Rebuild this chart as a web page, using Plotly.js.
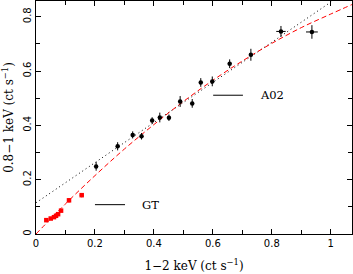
<!DOCTYPE html>
<html><head><meta charset="utf-8">
<script src="https://cdn.plot.ly/plotly-3.0.1.min.js"></script>
<style>html,body{margin:0;padding:0;background:#fff}#c{width:353px;height:274px}</style>
</head><body><div id="c"></div>
<script>
// A02 data (black)
var a02X   = [0.204, 0.277, 0.328, 0.358, 0.394, 0.420, 0.451, 0.489, 0.530, 0.559, 0.598, 0.657, 0.729, 0.831, 0.936];
var a02Y   = [0.249, 0.323, 0.365, 0.360, 0.418, 0.429, 0.428, 0.488, 0.481, 0.558, 0.562, 0.627, 0.660, 0.746, 0.744];
var a02Ex  = [0.005, 0.005, 0.005, 0.005, 0.004, 0.005, 0.005, 0.006, 0.005, 0.005, 0.006, 0.006, 0.006, 0.016, 0.020];
var a02Ey  = [0.016, 0.015, 0.013, 0.012, 0.012, 0.018, 0.012, 0.020, 0.016, 0.016, 0.018, 0.016, 0.022, 0.020, 0.025];
// GT data (red)
var gtX  = [0.035, 0.050, 0.061, 0.068, 0.075, 0.085, 0.112, 0.155];
var gtY  = [0.051, 0.057, 0.062, 0.067, 0.073, 0.086, 0.124, 0.143];
var gtEx = [0.003, 0.003, 0.003, 0.003, 0.003, 0.004, 0.004, 0.007];
var gtEy = [0.004, 0.004, 0.004, 0.004, 0.004, 0.005, 0.008, 0.008];
// dotted linear fit (black)
var linX = [0.0, 1.072];
var linY = [0.115, 0.907];
// dashed curve (red)
var curX = [0, 0.1, 0.2, 0.3, 0.4, 0.5, 0.6, 0.7, 0.8, 0.9, 1.0, 1.072];
var curY = [0, 0.111, 0.215, 0.313, 0.403, 0.488, 0.566, 0.637, 0.702, 0.760, 0.810, 0.845];
// tick labels
var xTicks = [0, 0.2, 0.4, 0.6, 0.8, 1];
var xTickText = ['0', '0.2', '0.4', '0.6', '0.8', '1'];
var yTicks = [0, 0.2, 0.4, 0.6, 0.8];
var yTickText = ['0', '0.2', '0.4', '0.6', '0.8'];

var serif = 'DejaVu Serif, Liberation Serif, serif';

var traces = [
  {x: linX, y: linY, mode: 'lines', line: {color: '#000', width: 1, dash: '1px,3px'}, hoverinfo: 'skip'},
  {x: curX, y: curY, mode: 'lines', line: {color: '#ff0000', width: 1, dash: '5px,3px', shape: 'spline'}, hoverinfo: 'skip'},
  {x: a02X, y: a02Y, mode: 'markers', marker: {color: '#000', size: 4.5},
   error_x: {type: 'data', array: a02Ex, color: '#000', thickness: 1, width: 0},
   error_y: {type: 'data', array: a02Ey, color: '#000', thickness: 1, width: 0}},
  {x: gtX, y: gtY, mode: 'markers', marker: {color: '#ff0000', size: 4.5, symbol: 'square'},
   error_x: {type: 'data', array: gtEx, color: '#ff0000', thickness: 1, width: 0},
   error_y: {type: 'data', array: gtEy, color: '#ff0000', thickness: 1, width: 0}}
];

var axisCommon = {
  showgrid: false, zeroline: false, showline: true, linecolor: '#000', linewidth: 1,
  mirror: 'allticks', ticks: 'inside', ticklen: 5, tickcolor: '#000', tickwidth: 1,
  tickfont: {family: 'DejaVu Sans, Liberation Sans, sans-serif', size: 10, color: '#000'},
  minor: {ticks: 'inside', dtick: 0.1, ticklen: 4, tickcolor: '#000', tickwidth: 1}
};

var layout = {
  width: 353, height: 274,
  margin: {l: 36, r: 1, t: 1, b: 39.5},
  paper_bgcolor: '#fff', plot_bgcolor: '#fff',
  showlegend: false,
  xaxis: Object.assign({}, axisCommon, {
    range: [0, 1.072], tickvals: xTicks, ticktext: xTickText,
    title: {text: '1\u22122 keV (ct s<sup>\u22121</sup>)', standoff: 13,
            font: {family: serif, size: 12, color: '#000'}}
  }),
  yaxis: Object.assign({}, axisCommon, {
    range: [0, 0.858], tickvals: yTicks, ticktext: yTickText, tickangle: -90,
    title: {text: '0.8\u22121 keV (ct s<sup>\u22121</sup>)', standoff: 5,
            font: {family: serif, size: 12, color: '#000'}}
  }),
  shapes: [
    {type: 'line', xref: 'x', yref: 'y', x0: 0.601, x1: 0.702, y0: 0.511, y1: 0.511, line: {color: '#000', width: 1}},
    {type: 'line', xref: 'x', yref: 'y', x0: 0.200, x1: 0.302, y0: 0.108, y1: 0.108, line: {color: '#000', width: 1}}
  ],
  annotations: [
    {xref: 'x', yref: 'y', x: 0.752, y: 0.511, text: 'A02', showarrow: false, xanchor: 'left',
     font: {family: serif, size: 11.5, color: '#000'}},
    {xref: 'x', yref: 'y', x: 0.352, y: 0.108, text: 'GT', showarrow: false, xanchor: 'left',
     font: {family: serif, size: 11.5, color: '#000'}},
    {xref: 'x', yref: 'y', x: -0.031, y: 0.108, text: 'C', showarrow: false,
     font: {family: serif, size: 11, color: '#000'}}
  ]
};

Plotly.newPlot('c', traces, layout, {staticPlot: true, displayModeBar: false});
</script>
</body></html>
